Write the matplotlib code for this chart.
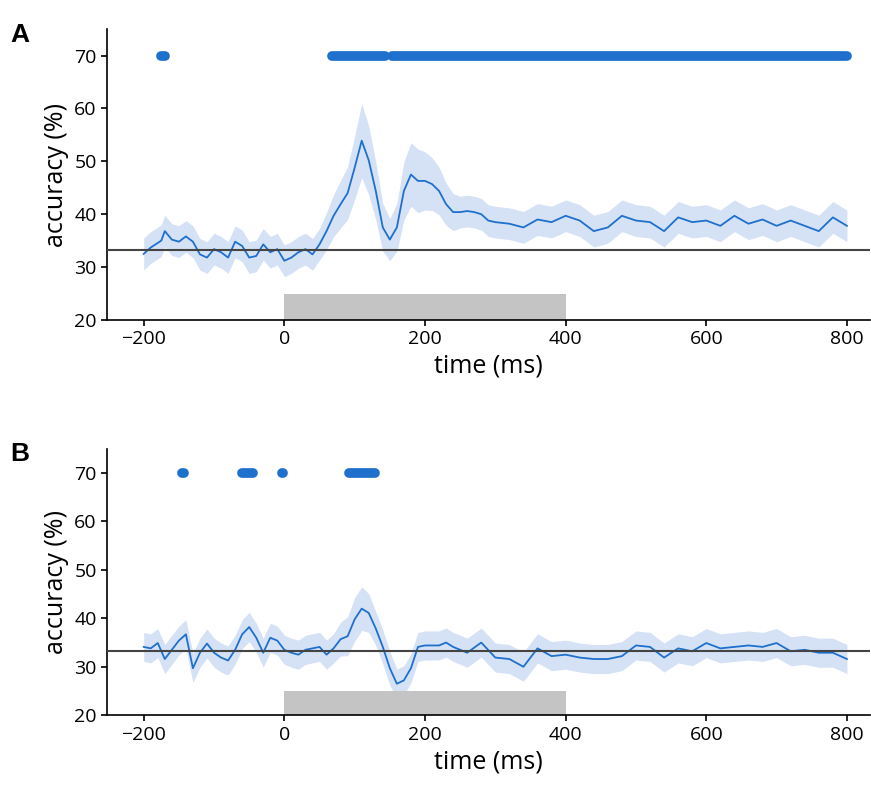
import numpy as np
import matplotlib.pyplot as plt

# Panel A: decoding accuracy (%)
t_a = [-200, -190, -175, -170, -160, -150, -140, -130, -120, -110, -100, -90, -80, -70, -60, -50, -40,
       -30, -20, -10, 0, 10, 20, 30, 40, 50, 60, 70, 80, 90, 100, 110, 120, 130, 140, 150, 160, 170,
       180, 190, 200, 210, 220, 230, 240, 250, 260, 270, 280, 290, 300, 320, 340, 360, 380, 400, 420,
       440, 460, 480, 500, 520, 540, 560, 580, 600, 620, 640, 660, 680, 700, 720, 740, 760, 780, 800]
acc_a = [32.5, 33.7, 35.0, 36.8, 35.2, 34.8, 35.8, 34.8, 32.4, 31.8, 33.4, 32.8, 31.8, 34.8, 34.0, 31.8,
         32.1, 34.3, 32.8, 33.4, 31.2, 31.8, 32.8, 33.4, 32.4, 34.3, 36.8, 39.7, 41.9, 44.0, 48.8, 53.9,
         50.2, 44.4, 37.5, 35.2, 37.5, 44.4, 47.5, 46.3, 46.3, 45.7, 44.4, 41.9, 40.4, 40.4, 40.6, 40.4,
         40.0, 38.8, 38.5, 38.2, 37.5, 39.0, 38.5, 39.7, 38.8, 36.8, 37.5, 39.7, 38.8, 38.5, 36.8, 39.4,
         38.5, 38.8, 37.8, 39.7, 38.2, 39.0, 37.8, 38.8, 37.8, 36.8, 39.4, 37.8]
err_a = [3.0] * 26 + [3.5, 4.0, 4.5, 5.0, 6.0, 7.0, 6.5, 5.5, 4.5, 4.0, 4.5, 5.5, 6.0, 6.0, 5.5, 5.0,
                      4.5, 4.0, 3.5] + [3.0] * 31
sig_a = [(-176, -170), (68, 143), (153, 800)]

# Panel B
t_b = [-200, -190, -180, -170, -160, -150, -140, -130, -120, -110, -100, -90, -80, -70, -60, -50, -40,
       -30, -20, -10, 0, 10, 20, 30, 40, 50, 60, 70, 80, 90, 100, 110, 120, 130, 140, 150, 160, 170,
       180, 190, 200, 220, 230, 240, 260, 280, 300, 320, 340, 360, 380, 400, 420, 440, 460, 480, 500,
       520, 540, 560, 580, 600, 620, 640, 660, 680, 700, 720, 740, 760, 780, 800]
acc_b = [34.1, 33.8, 34.9, 31.6, 33.5, 35.4, 36.7, 29.7, 32.9, 34.8, 32.9, 31.9, 31.3, 33.5, 36.7, 38.2,
         36.0, 32.9, 36.0, 35.4, 33.5, 32.9, 32.5, 33.5, 33.8, 34.1, 32.5, 33.8, 35.7, 36.3, 39.8, 42.0,
         41.1, 37.9, 34.1, 29.7, 26.5, 27.2, 29.7, 34.1, 34.4, 34.4, 35.0, 34.1, 32.9, 35.0, 31.9, 31.6,
         30.0, 33.8, 32.2, 32.5, 31.9, 31.6, 31.6, 32.2, 34.4, 34.1, 31.9, 33.8, 33.2, 34.9, 33.8, 34.1,
         34.4, 34.1, 34.9, 33.2, 33.5, 32.9, 32.9, 31.6]
err_b = [3.0] * 28 + [3.5, 4.0, 4.5, 4.5, 4.0, 3.5, 3.5, 3.5, 3.0] + [3.0] * 35
sig_b = [(-145, -143), (-60, -45), (-4, -2), (92, 129)]

chance = 33.3
line_c = "#1f6fcc"
band_c = "#d5e2f5"

plt.rcParams['font.family'] = ['Open Sans', 'DejaVu Sans']
fig = plt.figure(figsize=(8.71, 8.10), dpi=100)
axA = fig.add_axes([0.123, 0.605, 0.876, 0.359])
axB = fig.add_axes([0.123, 0.117, 0.876, 0.329])

for ax, t, acc, err, sig, letter in [(axA, t_a, acc_a, err_a, sig_a, "A"), (axB, t_b, acc_b, err_b, sig_b, "B")]:
    t = np.array(t); acc = np.array(acc); err = np.array(err)
    ax.fill_between(t, acc - err, acc + err, color=band_c, lw=0)
    ax.plot(t, acc, color=line_c, lw=1.3)
    ax.axhline(chance, color="#444444", lw=1.5, zorder=3)
    ax.bar(0, 5, width=400, bottom=20, align='edge', color="#c4c4c4", zorder=1)
    for s, e in sig:
        ax.plot([s, e], [70, 70], color=line_c, lw=7, solid_capstyle='round')
    ax.set_xlim(-252, 833)
    ax.set_ylim(20, 75)
    ax.set_yticks([20, 30, 40, 50, 60, 70])
    ax.set_xticks([-200, 0, 200, 400, 600, 800])
    ax.tick_params(labelsize=14, length=4, width=1.2)
    for sp in ["top", "right"]:
        ax.spines[sp].set_visible(False)
    for sp in ["left", "bottom"]:
        ax.spines[sp].set_linewidth(1.2)
    ax.set_xlabel("time (ms)", fontsize=18)
    ax.set_ylabel("accuracy (%)", fontsize=18)
    pos = ax.get_position()
    fig.text(0.012, pos.y1 + 0.008, letter, fontsize=19, fontweight='bold', family='Liberation Sans', va='top')

fig.savefig("out.png", dpi=100)
